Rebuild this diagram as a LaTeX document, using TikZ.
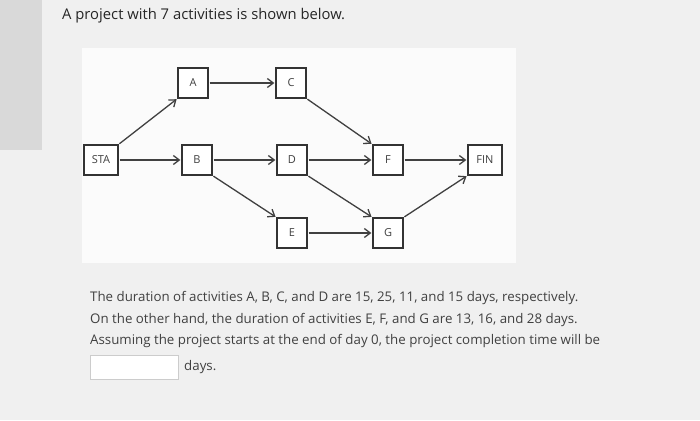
\documentclass[tikz,border=0pt]{standalone}
\usepackage{fontspec}
\setmainfont{Open Sans}
\usetikzlibrary{arrows.meta}
\begin{document}
\begin{tikzpicture}[x=1pt,y=-1pt,
  box/.style={draw=black!80,line width=1.2pt,fill=white,minimum width=30pt,minimum height=30pt,inner sep=0pt,font=\fontsize{11}{12}\selectfont,text=black!75},
  arr/.style={draw=black!75,line width=1.3pt,-{Straight Barb[length=6pt,width=9pt]},shorten >=1pt,shorten <=1pt},
  txt/.style={anchor=west,inner sep=0pt,text=black!75,font=\fontsize{13.3}{16}\selectfont}]
\path[fill=gray!12] (0,0) rectangle (700,420);
\path[fill=gray!30] (0,0) rectangle (42,150);
\path[fill=white!97!gray] (82,48) rectangle (516,263);
\node[txt,font=\fontsize{14.8}{17}\selectfont,text=black!85] (t) at (62,16) {A project with 7 activities is shown below.};
\node[box,minimum width=34pt] (sta) at (101,160) {STA};
\node[box] (a) at (193,83) {A};
\node[box] (c) at (291,83) {C};
\node[box] (b) at (197,160) {B};
\node[box] (d) at (292,160) {D};
\node[box] (f) at (388,160) {F};
\node[box,minimum width=34pt] (fin) at (485,160) {FIN};
\node[box] (e) at (292,233) {E};
\node[box] (g) at (388,233) {G};
\draw[arr] (sta.north east) -- (a.south west);
\draw[arr] (sta) -- (b);
\draw[arr] (a) -- (c);
\draw[arr] (b) -- (d);
\draw[arr] (b.south east) -- (e.north west);
\draw[arr] (c.south east) -- (f.north west);
\draw[arr] (d) -- (f);
\draw[arr] (d.south east) -- (g.north west);
\draw[arr] (e) -- (g);
\draw[arr] (f) -- (fin);
\draw[arr] (g.north east) -- (fin.south west);
\node[txt] (l1) at (90,298) {The duration of activities A, B, C, and D are 15, 25, 11, and 15 days, respectively.};
\node[txt] (l2) at (90,320) {On the other hand, the duration of activities E, F, and G are 13, 16, and 28 days.};
\node[txt] (l3) at (90,341) {Assuming the project starts at the end of day 0, the project completion time will be};
\node[draw=gray!40,fill=white,minimum width=88pt,minimum height=24pt,inner sep=0pt] (in) at (134,367) {};
\node[txt] (l4) at (184,367) {days.};
\end{tikzpicture}
\end{document}
